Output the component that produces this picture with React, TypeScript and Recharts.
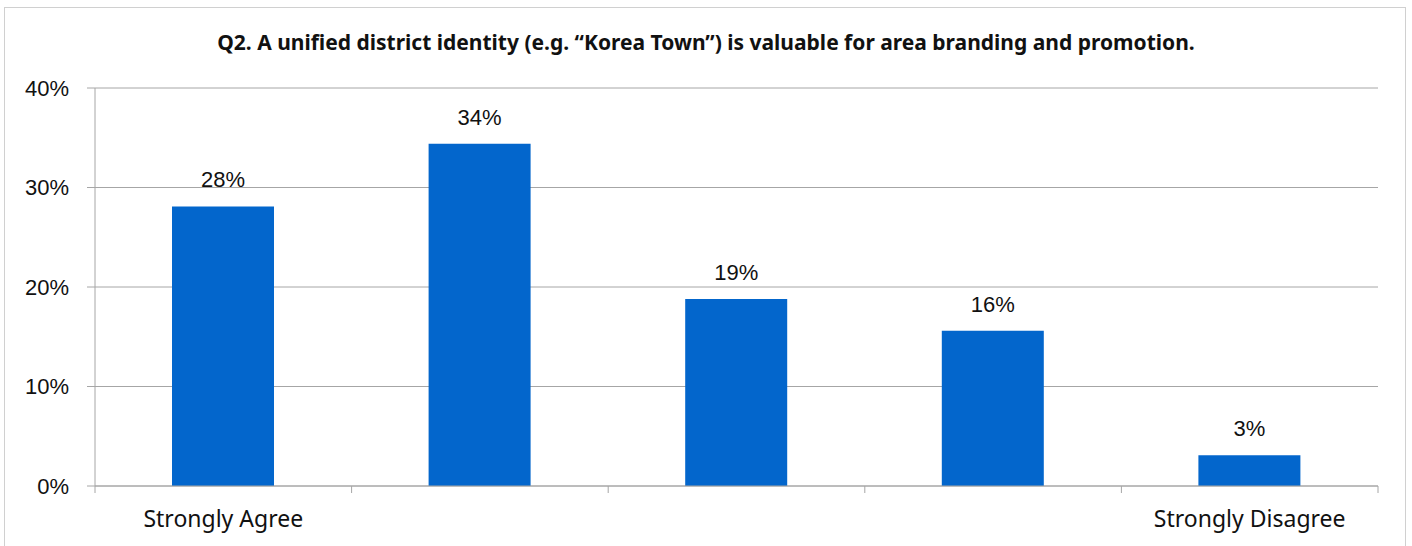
import { BarChart, Bar, XAxis, YAxis, CartesianGrid, LabelList } from "recharts";

const categories = ["Strongly Agree", "Agree", "Neutral", "Disagree", "Strongly Disagree"];
const tickLabels = ["Strongly Agree", "", "", "", "Strongly Disagree"];
const shares = [0.281, 0.344, 0.188, 0.156, 0.031];
const yTicks = [0, 0.1, 0.2, 0.3, 0.4];

const TITLE = "Q2. A unified district identity (e.g. \u201cKorea Town\u201d) is valuable for area branding and promotion.";

const W = 1412;
const H = 546;
const X_AXIS_H = 30;
const MARGIN = { top: 88, right: 34, bottom: 60 - X_AXIS_H, left: 0 };
const Y_AXIS_W = 95;
const BAND = (W - MARGIN.right - MARGIN.left - Y_AXIS_W) / categories.length;
const GRID = "#a6a6a6";

const data = categories.map((name, i) => ({ name, label: tickLabels[i], value: shares[i] }));

const pct = (v: number) => `${Math.round(v * 100)}%`;

function CategoryTick(props: any) {
    const { x, y, payload, index } = props;
    const left = x - BAND / 2;
    const isLast = index === categories.length - 1;
    return (
        <g>
            <line x1={left} x2={left} y1={y} y2={y + 7} stroke={GRID} />
            {isLast && <line x1={left + BAND} x2={left + BAND} y1={y} y2={y + 7} stroke={GRID} />}
            <text
                x={x}
                y={y + 41}
                textAnchor="middle"
                fill="#111"
                style={{ fontFamily: "'Noto Sans', sans-serif", fontSize: 23 }}
            >
                {tickLabels[index] ?? payload.value}
            </text>
        </g>
    );
}

export default function App() {
    return (
        <div style={{ position: "absolute", left: 0, top: 0, width: W, height: H, background: "#fff", overflow: "hidden" }}>
            <div style={{
                position: "absolute", left: 4, top: 7, width: 1402, height: 560,
                border: "1px solid #d0d0d0", boxSizing: "border-box",
            }} />
            <div style={{
                position: "absolute", left: 0, top: 28, width: W, textAlign: "center",
                fontFamily: "'Noto Sans', sans-serif", fontWeight: 700, fontSize: 21, color: "#111",
                lineHeight: "28px",
            }}>
                {TITLE}
            </div>
            <div style={{ position: "absolute", left: 0, top: 0 }}>
                <BarChart width={W} height={H} data={data} margin={MARGIN}>
                    <CartesianGrid horizontal vertical={false} stroke={GRID} strokeWidth={1} />
                    <XAxis
                        dataKey="name"
                        height={X_AXIS_H}
                        interval={0}
                        tickLine={false}
                        tickSize={0}
                        tickMargin={0}
                        axisLine={{ stroke: GRID }}
                        tick={<CategoryTick />}
                    />
                    <YAxis
                        width={Y_AXIS_W}
                        domain={[0, 0.4]}
                        ticks={yTicks}
                        tickFormatter={pct}
                        tickSize={8}
                        tickMargin={18}
                        tickLine={{ stroke: GRID }}
                        axisLine={{ stroke: GRID }}
                        tick={{ fill: "#111", fontSize: 22, fontFamily: "'Liberation Sans', Arial, sans-serif" }}
                    />
                    <Bar dataKey="value" fill="#0366cc" barSize={102} isAnimationActive={false}>
                        <LabelList
                            dataKey="value"
                            position="top"
                            offset={19}
                            formatter={(v: any) => pct(Number(v))}
                            style={{ fill: "#111", fontSize: 22, fontFamily: "'Liberation Sans', Arial, sans-serif" }}
                        />
                    </Bar>
                </BarChart>
            </div>
        </div>
    );
}
